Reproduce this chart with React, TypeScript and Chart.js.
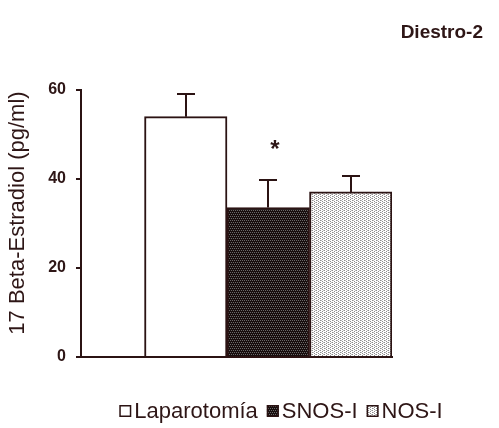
import React, { useEffect, useRef } from 'react';
import { Chart, registerables } from 'chart.js';

Chart.register(...registerables);

// ---- data ----
const groups = ['Laparotomía', 'SNOS-I', 'NOS-I'];
const positions = [1, 2, 3];
const means = [54.0, 33.6, 37.1];
const sem = [5.1, 6.2, 3.6];
const yTicks = [0, 20, 40, 60];
const titleText = 'Diestro-2';
const yLabel = '17 Beta-Estradiol (pg/ml)';
const marks = [{ x: 2.08, y: 45.0, text: '*' }];

const INK = '#2b1313';
const TEXT = '#2e1616';
const FAMILY = '"Liberation Sans", Arial, Helvetica, sans-serif';

function makePattern(kind: number): CanvasPattern | string {
  const c = document.createElement('canvas');
  c.width = 4;
  c.height = 4;
  const g = c.getContext('2d');
  if (!g) return '#fff';
  if (kind === 0) {
    g.fillStyle = '#ffffff';
    g.fillRect(0, 0, 4, 4);
  } else if (kind === 1) {
    g.fillStyle = '#180e0e';
    g.fillRect(0, 0, 4, 4);
    g.fillStyle = '#6a6a6a';
    g.fillRect(0, 0, 1, 1);
    g.fillRect(2, 0, 1, 1);
    g.fillRect(1, 2, 1, 1);
    g.fillRect(3, 2, 1, 1);
  } else {
    g.fillStyle = '#ffffff';
    g.fillRect(0, 0, 4, 4);
    g.fillStyle = '#8e8e8e';
    g.fillRect(0, 0, 1, 1);
    g.fillRect(2, 1, 1, 1);
    g.fillRect(0, 2, 1, 1);
    g.fillRect(2, 3, 1, 1);
    g.fillStyle = '#c0c0c0';
    g.fillRect(1, 0, 1, 1);
    g.fillRect(3, 2, 1, 1);
  }
  const p = g.createPattern(c, 'repeat');
  return p || '#ccc';
}

const overlayPlugin = {
  id: 'overlay',
  afterDatasetsDraw(chart: any) {
    const { ctx, scales } = chart;
    const xs = scales.x;
    const ys = scales.y;
    ctx.save();
    ctx.strokeStyle = INK;
    ctx.lineWidth = 2;
    positions.forEach((p, i) => {
      const x = Math.round(xs.getPixelForValue(p));
      const y0 = ys.getPixelForValue(means[i]);
      const y1 = ys.getPixelForValue(means[i] + sem[i]);
      ctx.beginPath();
      ctx.moveTo(x, y0);
      ctx.lineTo(x, y1);
      ctx.moveTo(x - 9, y1);
      ctx.lineTo(x + 9, y1);
      ctx.stroke();
    });
    ctx.fillStyle = TEXT;
    ctx.font = `bold 24px ${FAMILY}`;
    ctx.textAlign = 'center';
    ctx.textBaseline = 'alphabetic';
    marks.forEach((m) => {
      ctx.fillText(m.text, xs.getPixelForValue(m.x), ys.getPixelForValue(m.y));
    });
    ctx.restore();
  },
  afterDraw(chart: any) {
    const { ctx } = chart;
    ctx.save();
    ctx.fillStyle = TEXT;
    // title
    ctx.font = `bold 19px ${FAMILY}`;
    ctx.textAlign = 'right';
    ctx.textBaseline = 'alphabetic';
    ctx.fillText(titleText, 483, 38);
    // y label
    ctx.font = `22px ${FAMILY}`;
    ctx.save();
    ctx.translate(18, 213);
    ctx.rotate(-Math.PI / 2);
    ctx.textAlign = 'center';
    ctx.textBaseline = 'middle';
    ctx.fillText(yLabel, 0, 0);
    ctx.restore();
    // legend
    ctx.font = `22px ${FAMILY}`;
    const box = 12;
    const gap = 3;
    const itemGap = 9;
    const widths = groups.map((g) => box + gap + ctx.measureText(g).width);
    const total = widths.reduce((a, b) => a + b, 0) + itemGap * (groups.length - 1);
    let x = 281 - total / 2;
    const base = 418;
    const bgs = chart.data.datasets.map((d: any) => d.backgroundColor);
    groups.forEach((g, i) => {
      ctx.fillStyle = bgs[i];
      ctx.fillRect(x, base - box - 1, box, box);
      ctx.strokeStyle = INK;
      ctx.lineWidth = 1.5;
      ctx.strokeRect(x + 0.75, base - box - 1 + 0.75, box - 1.5, box - 1.5);
      ctx.fillStyle = TEXT;
      ctx.textAlign = 'left';
      ctx.fillText(g, x + box + gap, base);
      x += widths[i] + itemGap;
    });
    ctx.restore();
  },
};

export default function App() {
  const ref = useRef<HTMLCanvasElement | null>(null);
  useEffect(() => {
    if (!ref.current) return;
    const patterns = [0, 1, 2].map((k) => makePattern(k));
    const chart = new Chart(ref.current, {
      type: 'bar',
      data: {
        datasets: groups.map((g, i) => ({
          label: g,
          data: [{ x: positions[i], y: means[i] }],
          backgroundColor: patterns[i] as any,
          borderColor: INK,
          borderWidth: 2,
          borderSkipped: 'start',
          grouped: false,
          barPercentage: 1,
          categoryPercentage: 1,
        })),
      },
      options: {
        animation: false,
        responsive: false,
        maintainAspectRatio: false,
        devicePixelRatio: 1,
        layout: { padding: { left: 0, top: 90, right: 107, bottom: 71 } },
        plugins: { legend: { display: false }, title: { display: false }, tooltip: { enabled: false } },
        scales: {
          x: {
            type: 'linear',
            min: -0.27,
            max: 3.5,
            offset: false,
            bounds: 'data',
            afterBuildTicks: (s: any) => {
              s.ticks = positions.map((v) => ({ value: v }));
            },
            ticks: { display: false },
            grid: { display: false, drawTicks: false, offset: false },
            border: { display: true, color: INK, width: 2 },
          },
          y: {
            min: 0,
            max: 60,
            afterBuildTicks: (s: any) => {
              s.ticks = yTicks.map((v) => ({ value: v }));
            },
            afterFit: (s: any) => {
              s.width = 81;
            },
            ticks: { color: TEXT, font: { family: FAMILY, size: 16, weight: 'bold' }, padding: 10 },
            grid: { drawOnChartArea: false, drawTicks: true, tickLength: 5, color: INK, lineWidth: 2 },
            border: { display: true, color: INK, width: 2 },
          },
        },
      } as any,
      plugins: [overlayPlugin],
    });
    return () => chart.destroy();
  }, []);
  return (
    <div style={{ position: 'fixed', left: 0, top: 0, width: 499, height: 428, background: '#fff' }}>
      <canvas ref={ref} width={499} height={428} style={{ width: 499, height: 428, display: 'block' }} />
    </div>
  );
}
